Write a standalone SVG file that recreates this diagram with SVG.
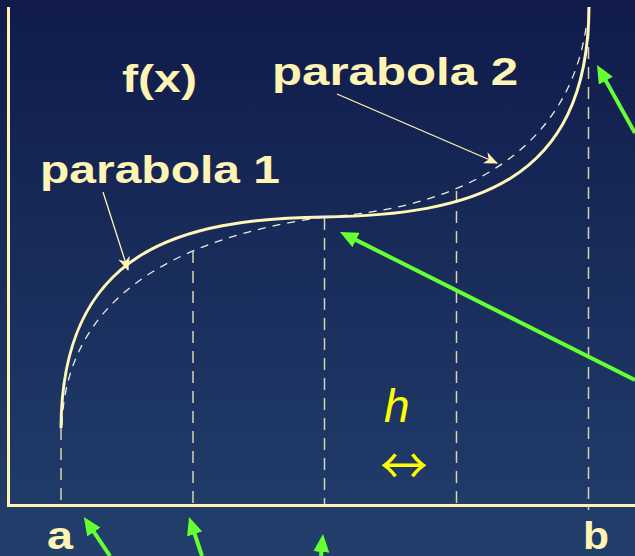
<svg xmlns="http://www.w3.org/2000/svg" width="635" height="556" viewBox="0 0 635 556">
  <defs>
    <linearGradient id="bg" x1="0" y1="0" x2="0" y2="1">
      <stop offset="0" stop-color="#101b4a"/>
      <stop offset="1" stop-color="#223f6c"/>
    </linearGradient>
    <marker id="stealth" viewBox="0 0 14 12" refX="13" refY="6" markerWidth="14" markerHeight="12" markerUnits="userSpaceOnUse" orient="auto">
      <path d="M0,0 L14,6 L0,12 L4,6 z" fill="#fff4b3"/>
    </marker>
    <marker id="green" viewBox="0 0 18 16" refX="7" refY="8" markerWidth="18" markerHeight="16" markerUnits="userSpaceOnUse" orient="auto">
      <path d="M0,0 L18,8 L0,16 z" fill="#66ff33"/>
    </marker>
    <style>
      .axis { stroke: #fff4b3; stroke-width: 3; fill: none; }
      .curve { stroke: #fff6b8; stroke-width: 3; fill: none; }
      .dcurve { stroke: #eeeede; stroke-width: 1.3; stroke-dasharray: 8 7; fill: none; }
      .vdash { stroke: #d6d2b2; stroke-width: 1.5; stroke-dasharray: 12 8; fill: none; }
      .note { stroke: #fff4b3; stroke-width: 1.3; fill: none; marker-end: url(#stealth); }
      .garrow { stroke: #66ff33; stroke-width: 4; fill: none; marker-end: url(#green); }
      .lbl { font-family: "Liberation Sans", Arial, sans-serif; font-weight: bold; fill: #fff4b3; font-size: 38px; }
      .h { font-family: "Liberation Sans", Arial, sans-serif; font-style: italic; fill: #ffff00; }
      .sym { font-family: "Noto Sans CJK SC", "DejaVu Sans", sans-serif; fill: #ffff00; }
    </style>
  </defs>

  <rect x="0" y="0" width="635" height="556" fill="url(#bg)"/>

  <g id="axes">
    <line class="axis" x1="8.5" y1="7" x2="8.5" y2="506"/>
    <line class="axis" x1="7" y1="505.5" x2="635" y2="505.5"/>
  </g>

  <g id="grid">
    <line class="vdash" x1="61" y1="428" x2="61" y2="504"/>
    <line class="vdash" x1="193" y1="251" x2="193" y2="504"/>
    <line class="vdash" x1="324.5" y1="218" x2="324.5" y2="504"/>
    <line class="vdash" x1="456.5" y1="191" x2="456.5" y2="504"/>
    <line class="vdash" x1="588.5" y1="7" x2="588.5" y2="510"/>
  </g>

  <g id="curves">
    <path id="fx" class="curve" d="M61,428 C62,250 180,219 324,217 C470,215 588,185 589,7"/>
    <path id="parabola1" class="dcurve" d="M62,425 C66,300 172,238 324,217"/>
    <path id="parabola2" class="dcurve" d="M324,217 C440,210 565,165 586,28"/>
  </g>

  <g id="labels">
    <text class="lbl" x="122" y="92" textLength="75" lengthAdjust="spacingAndGlyphs">f(x)</text>
    <text class="lbl" x="272" y="85" textLength="246" lengthAdjust="spacingAndGlyphs">parabola 2</text>
    <text class="lbl" x="40" y="183" textLength="240" lengthAdjust="spacingAndGlyphs">parabola 1</text>
    <text class="lbl" x="47" y="549" font-size="37" textLength="26" lengthAdjust="spacingAndGlyphs">a</text>
    <text class="lbl" x="583" y="549" font-size="37" textLength="26" lengthAdjust="spacingAndGlyphs">b</text>
    <text class="h" x="384" y="422" font-size="46">h</text>
    <text class="sym" x="380" y="484" font-size="50" textLength="48" lengthAdjust="spacingAndGlyphs">↔</text>
  </g>

  <g id="connectors">
    <line class="note" x1="103" y1="192" x2="128" y2="270"/>
    <line class="note" x1="337" y1="94" x2="497" y2="163"/>
    <line class="garrow" x1="635" y1="380" x2="349.8" y2="236.9"/>
    <line class="garrow" x1="635" y1="133" x2="602.4" y2="74.6"/>
    <line class="garrow" x1="110" y1="556" x2="90" y2="526.2"/>
    <line class="garrow" x1="202" y1="556" x2="192.5" y2="527.4"/>
    <line class="garrow" x1="321" y1="556" x2="322" y2="545"/>
  </g>
</svg>
